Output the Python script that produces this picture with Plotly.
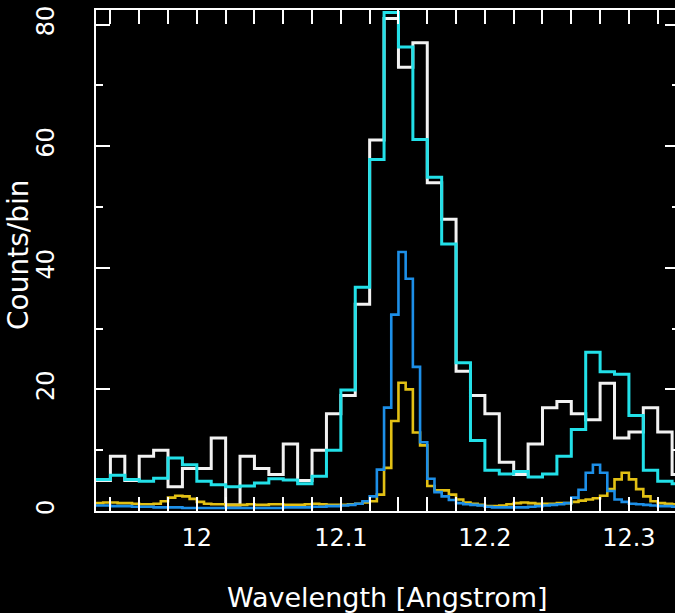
import plotly.graph_objects as go

# Coarse binning (0.01 Angstrom): observed counts (white) and model (cyan)
coarse_start = 11.93
coarse_width = 0.01
white_counts = [5, 9, 5, 9, 10, 4, 7, 7, 12, 1, 9, 7, 6, 11, 5, 10, 16, 19, 34, 61,
                81, 73, 77, 54, 48, 23, 19, 16, 8, 6, 11, 17, 18, 16, 15, 21, 12, 13, 17, 13, 6]
cyan_model = [5.2, 5.9, 5.2, 4.9, 5.4, 8.7, 7.6, 4.9, 4.3, 4.0, 4.1, 4.6, 5.3, 5.1, 4.5,
              5.7, 10.0, 19.9, 36.8, 57.8, 82.0, 76.3, 61.1, 54.9, 43.9, 24.4, 11.6, 6.7,
              6.1, 6.5, 5.6, 6.1, 9.0, 13.4, 26.1, 22.9, 22.5, 15.7, 6.7, 4.9, 4.5]

# Fine binning (0.005 Angstrom): component models
fine_start = 11.93
fine_width = 0.005
yellow_model = [1.3, 1.4, 1.4, 1.3, 1.3, 1.2, 1.1, 1.1, 1.2, 1.6,
                2.2, 2.5, 2.4, 2.0, 1.5, 1.2, 1.1, 1.1, 1.0, 1.0,
                1.0, 1.1, 1.0, 1.0, 1.1, 1.1, 1.0, 1.0, 1.0, 1.1,
                1.2, 1.1, 1.0, 1.0, 1.0, 1.1, 1.2, 1.4, 1.6, 2.7,
                7.1, 14.8, 21.1, 20.0, 12.9, 10.8, 4.1, 3.4, 3.4, 2.7,
                1.9, 1.4, 1.2, 1.0, 0.8, 0.8, 0.9, 1.1, 1.3, 1.4,
                1.3, 1.2, 1.2, 1.2, 1.3, 1.3, 1.5, 1.7, 1.9, 2.1,
                2.5, 3.6, 5.2, 6.3, 5.2, 3.6, 2.4, 1.6, 1.3, 1.2, 1.1]
blue_model = [0.9, 0.9, 0.8, 0.8, 0.8, 0.7, 0.7, 0.7, 0.6, 0.6,
              0.6, 0.6, 0.5, 0.5, 0.5, 0.5, 0.5, 0.5, 0.5, 0.5,
              0.5, 0.5, 0.5, 0.5, 0.5, 0.5, 0.6, 0.6, 0.6, 0.6,
              0.7, 0.7, 0.8, 0.8, 0.9, 1.0, 1.2, 1.6, 2.4, 6.8,
              17.0, 32.3, 42.6, 38.2, 23.7, 11.3, 5.3, 3.1, 2.4, 1.8,
              1.3, 1.1, 1.0, 0.9, 0.7, 0.6, 0.6, 0.6, 0.6, 0.6,
              0.7, 0.8, 0.9, 1.0, 1.1, 1.3, 2.2, 3.5, 6.3, 7.6,
              6.3, 3.3, 1.9, 1.5, 1.2, 1.1, 1.0, 0.9, 0.8, 0.8, 0.7]

x_tick_vals = [12.0, 12.1, 12.2, 12.3]
x_tick_text = ["12", "12.1", "12.2", "12.3"]
y_tick_vals = [0, 20, 40, 60, 80]
y_tick_text = ["0", "20", "40", "60", "80"]
x_title = "Wavelength [Angstrom]"
y_title = "Counts/bin"

FONT = "DejaVu Sans"


def steps(start, width, vals):
    edges = [round(start + width * i, 4) for i in range(len(vals) + 1)]
    return edges, list(vals) + [vals[-1]]


fig = go.Figure()
for start, width, vals, color, lw in [
    (coarse_start, coarse_width, white_counts, "#f2f2f2", 3),
    (coarse_start, coarse_width, cyan_model, "#22e0e8", 3),
    (fine_start, fine_width, yellow_model, "#e2c014", 2.6),
    (fine_start, fine_width, blue_model, "#1d8fe8", 2.6),
]:
    xs, ys = steps(start, width, vals)
    fig.add_trace(go.Scatter(x=xs, y=ys, mode="lines", line=dict(shape="hv", color=color, width=lw),
                             showlegend=False, hoverinfo="skip"))

# invisible trace to activate the right-hand tick axis
fig.add_trace(go.Scatter(x=[12.0], y=[0], yaxis="y2", mode="markers", marker=dict(opacity=0),
                         showlegend=False, hoverinfo="skip"))

YR = [0, 82.4]
fig.update_layout(
    width=675, height=613,
    margin=dict(l=96, r=0, t=10, b=102),
    paper_bgcolor="black", plot_bgcolor="black",
    font=dict(family=FONT, color="white", size=24),
    xaxis=dict(
        range=[11.93, 12.332], showgrid=False, zeroline=False,
        showline=True, linecolor="white", linewidth=2, mirror="allticks",
        ticks="inside", ticklen=14, tickwidth=2, tickcolor="white",
        tickvals=x_tick_vals, ticktext=x_tick_text,
        minor=dict(dtick=0.02, tick0=12.0, ticks="inside", ticklen=7, tickwidth=2, tickcolor="white"),
        tickfont=dict(size=24, family=FONT, color="white"), ticklabelstandoff=4,
    ),
    yaxis=dict(
        range=YR, showgrid=False, zeroline=False,
        showline=True, linecolor="white", linewidth=2, mirror=False,
        ticks="inside", ticklen=14, tickwidth=2, tickcolor="white",
        tickvals=y_tick_vals, ticktext=y_tick_text, tickangle=-90,
        minor=dict(dtick=10, tick0=0, ticks="inside", ticklen=7, tickwidth=2, tickcolor="white"),
        tickfont=dict(size=24, family=FONT, color="white"), ticklabelstandoff=30,
    ),
    yaxis2=dict(
        range=YR, overlaying="y", side="right", showgrid=False, zeroline=False,
        showline=False, showticklabels=False,
        ticks="inside", ticklen=10, tickwidth=2, tickcolor="white",
        tickvals=y_tick_vals,
        minor=dict(dtick=10, tick0=0, ticks="inside", ticklen=3, tickwidth=2, tickcolor="white"),
    ),
    annotations=[
        dict(text=x_title, xref="paper", yref="paper", x=0.5026, y=-0.1717,
             xanchor="center", yanchor="middle", showarrow=False,
             font=dict(size=27, family=FONT, color="white")),
        dict(text=y_title, xref="paper", yref="paper", x=-0.133, y=0.511,
             xanchor="center", yanchor="middle", textangle=-90, showarrow=False,
             font=dict(size=28, family=FONT, color="white")),
    ],
)

fig.write_html("out.html")
